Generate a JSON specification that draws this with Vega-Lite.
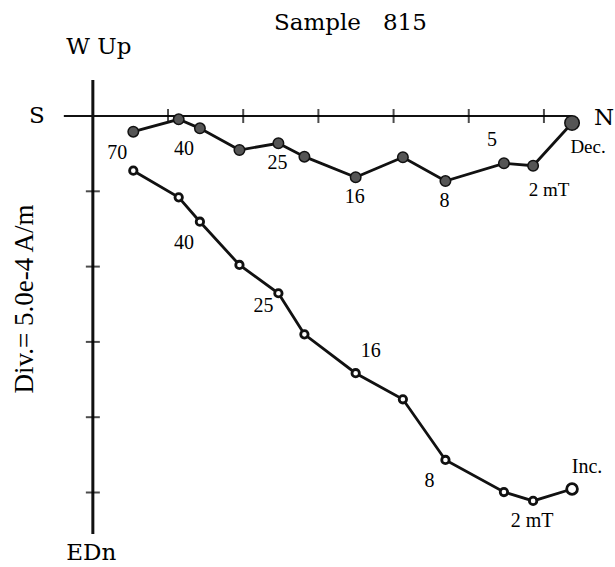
{
  "$schema": "https://vega.github.io/schema/vega-lite/v6.json",
  "width": 615,
  "height": 567,
  "autosize": {"type": "fit", "contains": "padding"},
  "padding": 0,
  "background": "white",
  "config": {"view": {"stroke": null}, "text": {"font": "Liberation Serif", "color": "#000"}},
  "datasets": {
    "pts": [
      {"comp": "Dec", "i": 1, "n": 2.69, "v": 1.04, "label": "70", "place": "bl"},
      {"comp": "Dec", "i": 2, "n": 5.71, "v": 0.22, "label": "", "place": ""},
      {"comp": "Dec", "i": 3, "n": 7.12, "v": 0.82, "label": "40", "place": "bl"},
      {"comp": "Dec", "i": 4, "n": 9.75, "v": 2.26, "label": "", "place": ""},
      {"comp": "Dec", "i": 5, "n": 12.34, "v": 1.81, "label": "25", "place": "b"},
      {"comp": "Dec", "i": 6, "n": 14.07, "v": 2.7, "label": "", "place": ""},
      {"comp": "Dec", "i": 7, "n": 17.48, "v": 4.07, "label": "16", "place": "b"},
      {"comp": "Dec", "i": 8, "n": 20.62, "v": 2.74, "label": "", "place": ""},
      {"comp": "Dec", "i": 9, "n": 23.45, "v": 4.32, "label": "8", "place": "b"},
      {"comp": "Dec", "i": 10, "n": 27.34, "v": 3.14, "label": "5", "place": "al"},
      {"comp": "Dec", "i": 11, "n": 29.28, "v": 3.3, "label": "2 mT", "place": "br"},
      {"comp": "Dec", "i": 12, "n": 31.87, "v": 0.46, "label": "Dec.", "place": "br"},
      {"comp": "Inc", "i": 1, "n": 2.69, "v": 3.63, "label": "", "place": ""},
      {"comp": "Inc", "i": 2, "n": 5.71, "v": 5.4, "label": "", "place": ""},
      {"comp": "Inc", "i": 3, "n": 7.12, "v": 7.02, "label": "40", "place": "bl"},
      {"comp": "Inc", "i": 4, "n": 9.75, "v": 9.89, "label": "", "place": ""},
      {"comp": "Inc", "i": 5, "n": 12.34, "v": 11.77, "label": "25", "place": "l"},
      {"comp": "Inc", "i": 6, "n": 14.07, "v": 14.5, "label": "", "place": ""},
      {"comp": "Inc", "i": 7, "n": 17.48, "v": 17.08, "label": "16", "place": "ar"},
      {"comp": "Inc", "i": 8, "n": 20.62, "v": 18.81, "label": "", "place": ""},
      {"comp": "Inc", "i": 9, "n": 23.45, "v": 22.84, "label": "8", "place": "bl"},
      {"comp": "Inc", "i": 10, "n": 27.34, "v": 24.97, "label": "", "place": ""},
      {"comp": "Inc", "i": 11, "n": 29.28, "v": 25.56, "label": "2 mT", "place": "b"},
      {"comp": "Inc", "i": 12, "n": 31.87, "v": 24.77, "label": "Inc.", "place": "ar"}
    ],
    "axes": [
      {"name": "horizontal", "from_n": -1.93, "to_n": 31.87, "from_v": 0, "to_v": 0, "w": "h"},
      {"name": "vertical", "from_n": 0, "to_n": 0, "from_v": -2.39, "to_v": 27.76, "w": "v"}
    ],
    "hticks": [{"n": 5, "v": 0}, {"n": 10, "v": 0}, {"n": 15, "v": 0}, {"n": 20, "v": 0}, {"n": 25, "v": 0}, {"n": 30, "v": 0}],
    "vticks": [{"n": 0, "v": 5}, {"n": 0, "v": 10}, {"n": 0, "v": 15}, {"n": 0, "v": 20}, {"n": 0, "v": 25}],
    "titles": [
      {"caption": "Sample\u00a0\u00a0\u00a0815", "n": 17.13, "v": -6.15, "kind": "title"},
      {"caption": "W Up", "n": 0.4, "v": -4.6, "kind": "end"},
      {"caption": "S", "n": -3.72, "v": 0, "kind": "end"},
      {"caption": "N", "n": 34.0, "v": 0.1, "kind": "end"},
      {"caption": "EDn", "n": -0.1, "v": 29.0, "kind": "end"},
      {"caption": "Div.= 5.0e-4 A/m", "n": -4.5, "v": 12.15, "kind": "unit"}
    ]
  },
  "layer": [
    {
      "data": {"name": "axes"},
      "mark": {"type": "rule", "color": "#111"},
      "encoding": {
        "x": {"field": "from_n", "type": "quantitative", "scale": {"domain": [-6.175, 34.66], "nice": false, "zero": false}, "axis": null},
        "x2": {"field": "to_n"},
        "y": {"field": "from_v", "type": "quantitative", "scale": {"domain": [-7.703, 29.947], "nice": false, "zero": false, "reverse": true}, "axis": null},
        "y2": {"field": "to_v"},
        "strokeWidth": {"condition": {"test": "datum.w === 'v'", "value": 3}, "value": 2.2}
      }
    },
    {
      "data": {"name": "hticks"},
      "mark": {"type": "tick", "orient": "vertical", "color": "#000", "size": 14, "thickness": 2},
      "encoding": {
        "x": {"field": "n", "type": "quantitative", "axis": null},
        "y": {"field": "v", "type": "quantitative", "axis": null}
      }
    },
    {
      "data": {"name": "vticks"},
      "mark": {"type": "tick", "orient": "horizontal", "color": "#000", "size": 14, "thickness": 2},
      "encoding": {
        "x": {"field": "n", "type": "quantitative", "axis": null},
        "y": {"field": "v", "type": "quantitative", "axis": null}
      }
    },
    {
      "data": {"name": "pts"},
      "mark": {"type": "line", "color": "#111", "strokeWidth": 2.8},
      "encoding": {
        "x": {"field": "n", "type": "quantitative", "axis": null},
        "y": {"field": "v", "type": "quantitative", "axis": null},
        "detail": {"field": "comp"},
        "order": {"field": "i", "type": "quantitative"}
      }
    },
    {
      "data": {"name": "pts"},
      "transform": [{"filter": "datum.comp === 'Dec'"}],
      "mark": {"type": "point", "shape": "circle", "filled": true, "fill": "#555", "stroke": "#111", "strokeWidth": 1.5, "opacity": 1},
      "encoding": {
        "x": {"field": "n", "type": "quantitative", "axis": null},
        "y": {"field": "v", "type": "quantitative", "axis": null},
        "size": {"condition": {"test": "datum.i === 12", "value": 210}, "value": 110}
      }
    },
    {
      "data": {"name": "pts"},
      "transform": [{"filter": "datum.comp === 'Inc'"}],
      "mark": {"type": "point", "shape": "circle", "filled": true, "fill": "white", "stroke": "#111", "strokeWidth": 2.8, "opacity": 1},
      "encoding": {
        "x": {"field": "n", "type": "quantitative", "axis": null},
        "y": {"field": "v", "type": "quantitative", "axis": null},
        "size": {"condition": {"test": "datum.i === 12", "value": 115}, "value": 55}
      }
    },
    {
      "data": {"name": "pts"},
      "transform": [{"filter": "datum.place === 'bl'"}],
      "mark": {"type": "text", "font": "Liberation Serif", "fontSize": 20, "dx": -16, "dy": 21},
      "encoding": {"x": {"field": "n", "type": "quantitative", "axis": null}, "y": {"field": "v", "type": "quantitative", "axis": null}, "text": {"field": "label"}}
    },
    {
      "data": {"name": "pts"},
      "transform": [{"filter": "datum.place === 'l'"}],
      "mark": {"type": "text", "font": "Liberation Serif", "fontSize": 20, "dx": -15, "dy": 13},
      "encoding": {"x": {"field": "n", "type": "quantitative", "axis": null}, "y": {"field": "v", "type": "quantitative", "axis": null}, "text": {"field": "label"}}
    },
    {
      "data": {"name": "pts"},
      "transform": [{"filter": "datum.place === 'b'"}],
      "mark": {"type": "text", "font": "Liberation Serif", "fontSize": 20, "dx": -1, "dy": 20},
      "encoding": {"x": {"field": "n", "type": "quantitative", "axis": null}, "y": {"field": "v", "type": "quantitative", "axis": null}, "text": {"field": "label"}}
    },
    {
      "data": {"name": "pts"},
      "transform": [{"filter": "datum.place === 'al'"}],
      "mark": {"type": "text", "font": "Liberation Serif", "fontSize": 20, "dx": -12, "dy": -23},
      "encoding": {"x": {"field": "n", "type": "quantitative", "axis": null}, "y": {"field": "v", "type": "quantitative", "axis": null}, "text": {"field": "label"}}
    },
    {
      "data": {"name": "pts"},
      "transform": [{"filter": "datum.place === 'br'"}],
      "mark": {"type": "text", "font": "Liberation Serif", "fontSize": 19, "dx": 16, "dy": 24},
      "encoding": {"x": {"field": "n", "type": "quantitative", "axis": null}, "y": {"field": "v", "type": "quantitative", "axis": null}, "text": {"field": "label"}}
    },
    {
      "data": {"name": "pts"},
      "transform": [{"filter": "datum.place === 'ar'"}],
      "mark": {"type": "text", "font": "Liberation Serif", "fontSize": 20, "dx": 15, "dy": -22},
      "encoding": {"x": {"field": "n", "type": "quantitative", "axis": null}, "y": {"field": "v", "type": "quantitative", "axis": null}, "text": {"field": "label"}}
    },
    {
      "data": {"name": "titles"},
      "transform": [{"filter": "datum.kind !== 'unit'"}],
      "mark": {"type": "text", "font": "DejaVu Serif", "fontSize": 23},
      "encoding": {"x": {"field": "n", "type": "quantitative", "axis": null}, "y": {"field": "v", "type": "quantitative", "axis": null}, "text": {"field": "caption"}}
    },
    {
      "data": {"name": "titles"},
      "transform": [{"filter": "datum.kind === 'unit'"}],
      "mark": {"type": "text", "font": "Liberation Serif", "fontSize": 27, "angle": 270},
      "encoding": {"x": {"field": "n", "type": "quantitative", "axis": null}, "y": {"field": "v", "type": "quantitative", "axis": null}, "text": {"field": "caption"}}
    }
  ]
}
